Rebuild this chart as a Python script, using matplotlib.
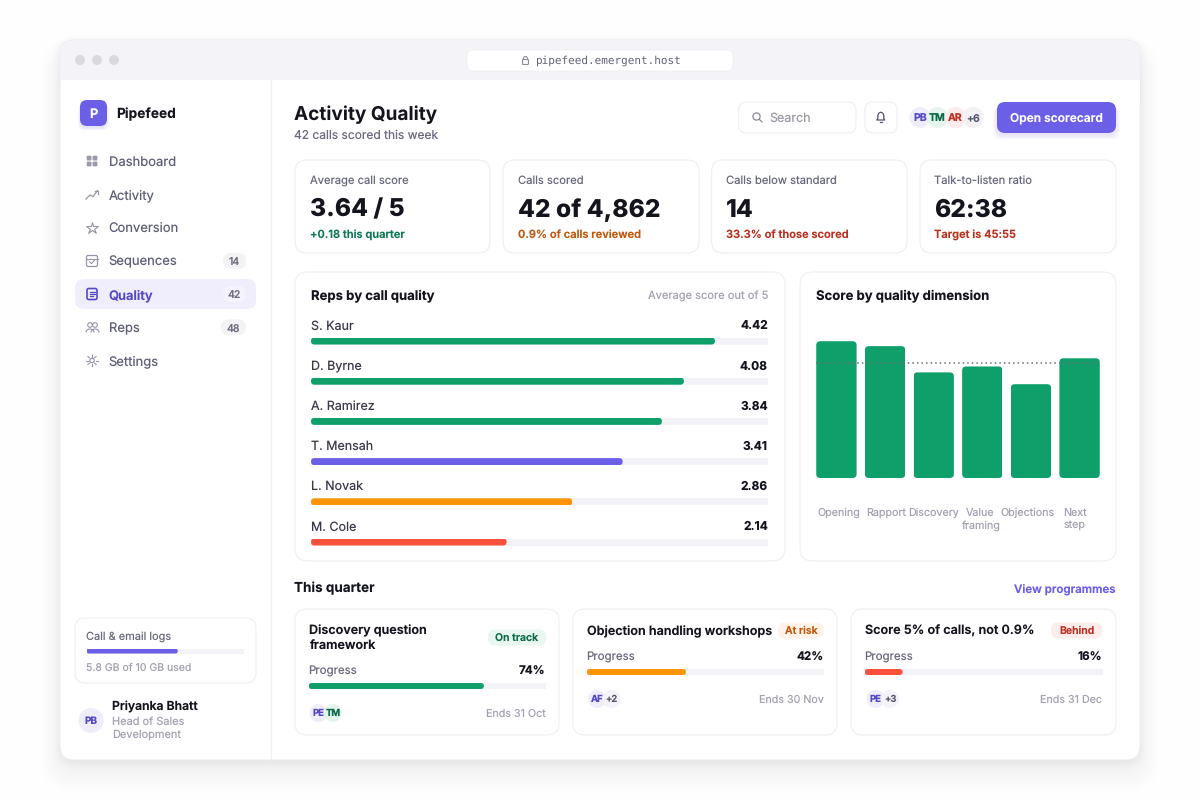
import matplotlib
matplotlib.use('Agg')
import matplotlib.pyplot as plt
import numpy as np
from matplotlib.patches import FancyBboxPatch, Circle, Rectangle, Arc
from matplotlib.transforms import IdentityTransform

plt.rcParams['font.family'] = ['Inter', 'DejaVu Sans']
plt.rcParams['text.hinting'] = 'no_hinting'

# data
nav_items = ['Dashboard', 'Activity', 'Conversion', 'Sequences', 'Quality', 'Reps', 'Settings']
nav_badges = [None, None, None, '14', '42', '48', None]

kpi_labels = ['Average call score', 'Calls scored', 'Calls below standard', 'Talk-to-listen ratio']
kpi_values = ['3.64 / 5', '42 of 4,862', '14', '62:38']
kpi_notes = ['+0.18 this quarter', '0.9% of calls reviewed', '33.3% of those scored', 'Target is 45:55']

rep_names = ['S. Kaur', 'D. Byrne', 'A. Ramirez', 'T. Mensah', 'L. Novak', 'M. Cole']
rep_scores = [4.42, 4.08, 3.84, 3.41, 2.86, 2.14]

dimensions = ['Opening', 'Rapport', 'Discovery', 'Value\nframing', 'Objections', 'Next\nstep']
dimension_scores = [4.17, 4.02, 3.22, 3.40, 2.86, 3.65]
dimension_target = 3.5

programme_titles = ['Discovery question\nframework', 'Objection handling workshops', 'Score 5% of calls, not 0.9%']
programme_status = ['On track', 'At risk', 'Behind']
programme_progress = [74, 42, 16]
programme_ends = ['Ends 31 Oct', 'Ends 30 Nov', 'Ends 31 Dec']

storage_used = 5.8
storage_total = 10

# colours
PURPLE = '#6b5fe8'
PURPLE_DK = '#5548c8'
GREEN = '#0f9f6a'
ORANGE = '#ff9408'
RED = '#fb503b'
INK = '#14141f'
MID = '#6a6a7e'
SOFT = '#a3a3b3'
LINE = '#f0f0f4'
TRACK = '#f3f3f7'


def fs(px):
    return px * 0.72


fig = plt.figure(figsize=(12, 8), dpi=100, facecolor='#fefefe')
bg = fig.add_axes([0, 0, 1, 1])
bg.set_xlim(0, 1200)
bg.set_ylim(800, 0)
bg.axis('off')


def box(x0, y0, x1, y1, r, fc='white', ec='none', lw=1.0, z=2, alpha=None):
    p = FancyBboxPatch((x0 + r, y0 + r), x1 - x0 - 2 * r, y1 - y0 - 2 * r,
                       boxstyle='round,pad=%f,rounding_size=%f' % (r, r),
                       fc=fc, ec=ec, lw=lw, zorder=z, alpha=alpha)
    bg.add_patch(p)
    return p


def txt(x, y, s, px, c=INK, w='normal', ha='left', z=6, ls=None, **kw):
    return bg.text(x, y + 1.1, s, fontsize=fs(px), color=c, fontweight=w, ha=ha, va='center',
                   zorder=z, linespacing=ls if ls else 1.2, **kw)


def dot(x, y, r, fc, z=4):
    bg.add_patch(Circle((x, y), r, fc=fc, ec='none', zorder=z))


def round_bar(ax, bar, r):
    # clip the library's bar to a rounded box of its own extent
    e = bar.get_window_extent()
    rr = min(r, e.width / 2, e.height / 2)
    clip = FancyBboxPatch((e.x0 + rr, e.y0 + rr), e.width - 2 * rr, e.height - 2 * rr,
                          boxstyle='round,pad=%f,rounding_size=%f' % (rr, rr),
                          transform=IdentityTransform())
    bar.set_clip_path(clip)


def px_axes(x0, y0, x1, y1):
    ax = fig.add_axes([x0 / 1200, 1 - y1 / 800, (x1 - x0) / 1200, (y1 - y0) / 800], zorder=5)
    ax.patch.set_alpha(0)
    ax.axis('off')
    return ax


def progress(x0, x1, yc, h, value, vmax, color):
    ax = px_axes(x0, yc - h / 2, x1, yc + h / 2)
    ax.set_xlim(0, vmax)
    ax.set_ylim(-0.5, 0.5)
    ax.barh([0], [vmax], height=1, color=TRACK, zorder=1)
    fill = ax.barh([0], [value], height=1, color=color, zorder=2)
    round_bar(ax, fill[0], h / 2)


# window shadow, wide and low, then a tight one
for i in range(24):
    g = -30 + i * 2.2
    box(60 - g, 60 - g, 1140 + g, 772 + g, 16 + max(g, 0), fc='#3a3a66', z=0.5, alpha=0.0024)
for i in range(8):
    box(60 - i, 42 - i, 1140 + i, 762 + i, 14 + i, fc='#3a3a66', z=0.6, alpha=0.003)

# window
box(60, 40, 1140, 760, 14, fc='white', ec='#ececf1', lw=0.7, z=1)
box(60.5, 40.5, 1139.5, 100, 14, fc='#f4f4f8', z=1.2)
bg.add_patch(Rectangle((60.5, 80), 1079, 24, fc='white', ec='none', zorder=1.3))
for x in [80, 97, 114]:
    dot(x, 60, 5, '#dadade')
box(467, 50, 733, 71, 6, fc='white', ec='#efeff3', lw=0.6, z=2)
txt(536, 59.7, 'pipefeed.emergent.host', 11, c='#62627a', family='DejaVu Sans Mono')
box(522.5, 59.5, 528.5, 64.5, 1, fc='none', ec='#8a8a99', lw=0.8, z=4)
bg.add_patch(Arc((525.5, 59.5), 4.4, 6, theta1=180, theta2=360, ec='#8a8a99', lw=0.8, zorder=4))

# sidebar
bg.plot([270.5, 270.5], [80, 760], color=LINE, lw=0.9, zorder=2)
for i in range(5):
    box(80 - i * 0.5, 102 + i * 0.4, 107 + i * 0.5, 128 + i * 0.6, 7, fc=PURPLE, z=1.8, alpha=0.03)
box(80, 100, 107, 126, 7, fc=PURPLE, z=3)
txt(93.5, 113, 'P', 13, c='white', w='bold', ha='center')
txt(116.4, 113, 'Pipefeed', 13.7, w='bold')

nav_y = [161, 194.3, 227.6, 261, 294, 327.4, 360.7]
box(75, 279, 256, 309, 9, fc='#f0eefc', z=2)
for name, badge, y in zip(nav_items, nav_badges, nav_y):
    active = name == 'Quality'
    txt(108.6, y, name, 13, c=PURPLE_DK if active else '#5f6076', w='semibold' if active else 'normal')
    if badge:
        x0 = 221 if badge == '48' else 223
        box(x0, y - 8, 246, y + 8, 8, fc='#f5f3fd' if active else '#f3f3f6', z=3)
        txt((x0 + 246) / 2, y, badge, 10.5, c=MID, w='medium', ha='center')

ic = '#9595a5'
# nav icons
for dx, dy in [(-5.3, -5.3), (0.6, -5.3), (-5.3, 0.6), (0.6, 0.6)]:
    box(92 + dx, 161 + dy, 92 + dx + 4.8, 161 + dy + 4.8, 1, fc='#9a9aaa', z=4)
bg.plot([86, 90, 93, 97.5], [199, 195, 196.5, 190.5], color=ic, lw=0.9, zorder=4)
bg.plot([94.5, 97.5, 97.5], [190.5, 190.5, 193.5], color=ic, lw=0.9, zorder=4)
bg.plot([92], [227.5], marker='*', ms=9, mfc='none', mec=ic, mew=0.8, zorder=4)
box(86.5, 255.5, 97.5, 266.5, 1.5, fc='none', ec=ic, lw=0.9, z=4)
bg.plot([86.5, 97.5], [258.5, 258.5], color=ic, lw=0.8, zorder=4)
bg.plot([89.8, 91.5, 94.5], [261.8, 263.5, 260.3], color=ic, lw=0.8, zorder=4)
box(87, 288.5, 97, 299.5, 1.8, fc='none', ec=PURPLE_DK, lw=1.2, z=4)
bg.plot([89.5, 94.5], [291.8, 291.8], color=PURPLE_DK, lw=0.9, zorder=4)
bg.plot([89.5, 94.5], [294, 294], color=PURPLE_DK, lw=0.9, zorder=4)
bg.plot([89.5, 92.5], [296.2, 296.2], color=PURPLE_DK, lw=0.9, zorder=4)
for cx in [90, 95]:
    bg.add_patch(Circle((cx, 325), 2.3, fc='none', ec=ic, lw=0.8, zorder=4))
    bg.add_patch(Arc((cx, 332.5), 8, 7, theta1=180, theta2=360, ec=ic, lw=0.8, zorder=4))
bg.add_patch(Circle((92, 360.5), 2.2, fc='none', ec=ic, lw=0.9, zorder=4))
for a in np.arange(0, 360, 45):
    c_, s_ = np.cos(np.radians(a)), np.sin(np.radians(a))
    bg.plot([92 + 3.8 * c_, 92 + 5.8 * c_], [360.5 + 3.8 * s_, 360.5 + 5.8 * s_], color=ic, lw=0.8, zorder=4)

# storage
box(75, 618, 256, 683, 10, fc='white', ec=LINE, lw=0.9)
txt(86.5, 635, 'Call & email logs', 11, c=MID)
progress(86.5, 244, 651, 5, storage_used, storage_total, PURPLE)
txt(86.5, 667, '5.8 GB of 10 GB used', 10.5, c=SOFT)

# user
dot(91, 720.5, 12.5, '#efedfb')
txt(91, 720.5, 'PB', 10, c=PURPLE_DK, w='bold', ha='center')
txt(112.5, 706, 'Priyanka Bhatt', 12.2, w='semibold')
txt(112.5, 720.5, 'Head of Sales', 11, c=SOFT)
txt(112.5, 733.5, 'Development', 11, c=SOFT)

# header
txt(294, 113.5, 'Activity Quality', 19, w='bold')
txt(294, 134.5, '42 calls scored this week', 12, c=MID)
box(738.5, 102, 856, 133, 8, fc='white', ec=LINE, lw=0.9)
bg.add_patch(Circle((756.5, 116.5), 3.6, fc='none', ec='#8a8a99', lw=0.9, zorder=4))
bg.plot([759.3, 762], [119.3, 122], color='#8a8a99', lw=0.9, zorder=4)
txt(769, 117, 'Search', 12.5, c='#9a9aa8')
box(865, 102, 897, 133, 8, fc='white', ec=LINE, lw=0.9)
bg.add_patch(Arc((880.8, 116.3), 6, 8, theta1=180, theta2=360, ec='#55556a', lw=0.9, zorder=4))
bg.plot([877.8, 877.8, 876.8, 884.8, 883.8, 883.8], [116.3, 118.5, 120, 120, 118.5, 116.3], color='#55556a', lw=0.9, zorder=4)
bg.plot([879.8, 881.8], [121.8, 121.8], color='#55556a', lw=0.9, zorder=4)

avatars = [(920, 'PB', '#efedfb', PURPLE_DK), (937.5, 'TM', '#e6f4ee', '#0d6b4a'),
           (955.5, 'AR', '#fdeced', '#b9301f'), (973, '+6', '#f2f2f5', '#55556a')]
for n, (x, lab, fc, tc) in enumerate(avatars):
    dot(x, 117.5, 10.5, fc, z=4 + n * 0.2)
    txt(x, 117.5, lab, 10.5, c=tc, w='bold' if n < 3 else 'semibold', ha='center', z=4.1 + n * 0.2)

for i in range(8):
    box(997 - i * 0.6, 104 + i * 0.5, 1116 + i * 0.6, 135 + i * 0.7, 8, fc=PURPLE, z=1.8, alpha=0.02)
box(997, 102, 1116, 133, 8, fc=PURPLE, z=3)
txt(1056.5, 117, 'Open scorecard', 12, c='white', w='semibold', ha='center')

# kpi cards
card_x = [(295, 490), (503, 699), (711.5, 907), (920, 1116)]
note_cols = ['#0d7a55', '#c2570c', '#b9301f', '#b9301f']
for (x0, x1), lab, val, note, col in zip(card_x, kpi_labels, kpi_values, kpi_notes, note_cols):
    box(x0, 160, x1, 253, 12, fc='white', ec=LINE, lw=0.9)
    txt(x0 + 14.5, 179.5, lab, 11.2, c=MID)
    txt(x0 + 14.5, 209, val, 24.6, w='heavy')
    txt(x0 + 14.5, 234, note, 11.1, c=col, w='semibold')

# reps panel
box(295, 272, 785, 561, 13, fc='white', ec=LINE, lw=0.9)
txt(311, 295.5, 'Reps by call quality', 13.1, w='bold')
txt(768, 295.5, 'Average score out of 5', 11.1, c=SOFT, ha='right')

rep_ax = px_axes(311, 320.9, 768, 562.1)
rep_ax.set_xlim(0, 5)
rep_ax.set_ylim(5.5, -0.5)
rep_y = np.arange(len(rep_names))
rep_colors = [GREEN, GREEN, GREEN, PURPLE, ORANGE, RED]
rep_ax.barh(rep_y, [5] * len(rep_names), height=7 / 40.2, color=TRACK, zorder=1)
rep_bars = rep_ax.barh(rep_y, rep_scores, height=7 / 40.2, color=rep_colors, zorder=2)
for b in rep_bars:
    round_bar(rep_ax, b, 3.5)
for y, name, score in zip(rep_y, rep_names, rep_scores):
    rep_ax.annotate(name, (0, y), xytext=(0, 15), textcoords='offset pixels', ha='left', va='center',
                    fontsize=fs(12.5), color='#3a3a4c', annotation_clip=False)
    rep_ax.annotate('%.2f' % score, (5, y), xytext=(0, 15), textcoords='offset pixels', ha='right', va='center',
                    fontsize=fs(12), color=INK, fontweight='bold', annotation_clip=False)

# dimension panel
box(800, 272, 1116, 561, 13, fc='white', ec=LINE, lw=0.9)
txt(816, 295.5, 'Score by quality dimension', 13.1, w='bold')

dim_ax = px_axes(816, 314, 1100, 478)
dim_ax.set_xlim(-0.42, 5.42)
dim_ax.set_ylim(0, 5)
dim_x = np.arange(len(dimensions))
dim_bars = dim_ax.bar(dim_x, dimension_scores, width=0.83, color=GREEN, zorder=2)
for b in dim_bars:
    round_bar(dim_ax, b, 4)
dim_ax.axhline(dimension_target, color='#6f6f78', lw=1.1, ls=(0, (1, 2)), zorder=3)
for x, lab in zip(dim_x, dimensions):
    va_x = x * 0.97 + 0.05
    dim_ax.annotate(lab, (va_x, 0), xytext=(0, -29.5), textcoords='offset pixels', ha='center', va='top',
                    fontsize=fs(10.7), color=SOFT, linespacing=1.28, annotation_clip=False)

# this quarter
txt(294, 587.5, 'This quarter', 13.5, w='bold')
txt(1116, 588.5, 'View programmes', 11.5, c=PURPLE, w='semibold', ha='right')

prog_x = [(295, 559), (573, 837), (851, 1116)]
prog_cols = [GREEN, ORANGE, RED]
pill_fc = ['#e9f7f1', '#fdf3e9', '#fdeeec']
pill_tc = ['#0d6b4a', '#c2570c', '#b9301f']
pill_x = [(488, 546), (778, 824), (1051, 1102)]
pill_y = [637.5, 630.5, 630.5]
row_y = [671, 657, 657]
prog_av = [[(318.5, 'PE', '#efedfb', PURPLE_DK), (333, 'TM', '#e6f4ee', '#0d6b4a')],
           [(597, 'AF', '#efedfb', PURPLE_DK), (611.5, '+2', '#f5f3fa', '#55556a')],
           [(875.5, 'PE', '#efedfb', PURPLE_DK), (890, '+3', '#f5f3fa', '#55556a')]]
for k in range(3):
    x0, x1 = prog_x[k]
    box(x0, 609, x1, 735, 12, fc='white', ec=LINE, lw=0.9)
    left = x0 + 13.6
    right = x1 - 13.5
    txt(left, 637.5 if k == 0 else 630.5, programme_titles[k], 12.6, w='semibold', ls=1.35)
    px0, px1 = pill_x[k]
    box(px0, pill_y[k] - 8, px1, pill_y[k] + 8, 7, fc=pill_fc[k], z=3)
    txt((px0 + px1) / 2, pill_y[k] - 0.5, programme_status[k], 10.5, c=pill_tc[k], w='semibold', ha='center')
    y = row_y[k]
    txt(left, y - 0.5, 'Progress', 11.5, c=MID)
    txt(right, y - 0.5, '%d%%' % programme_progress[k], 11.7, w='bold', ha='right')
    progress(left, right, y + 15, 6, programme_progress[k], 100, prog_cols[k])
    txt(right, y + 41.5, programme_ends[k], 10.7, c=SOFT, ha='right')
    for n, (ax_x, lab, fc, tc) in enumerate(prog_av[k]):
        dot(ax_x, y + 42, 9, fc, z=4 + n * 0.2)
        txt(ax_x, y + 41.5, lab, 9.5, c=tc, w='bold' if lab[0] != '+' else 'semibold', ha='center', z=4.1 + n * 0.2)

fig.savefig('out.png', dpi=100, facecolor=fig.get_facecolor())
